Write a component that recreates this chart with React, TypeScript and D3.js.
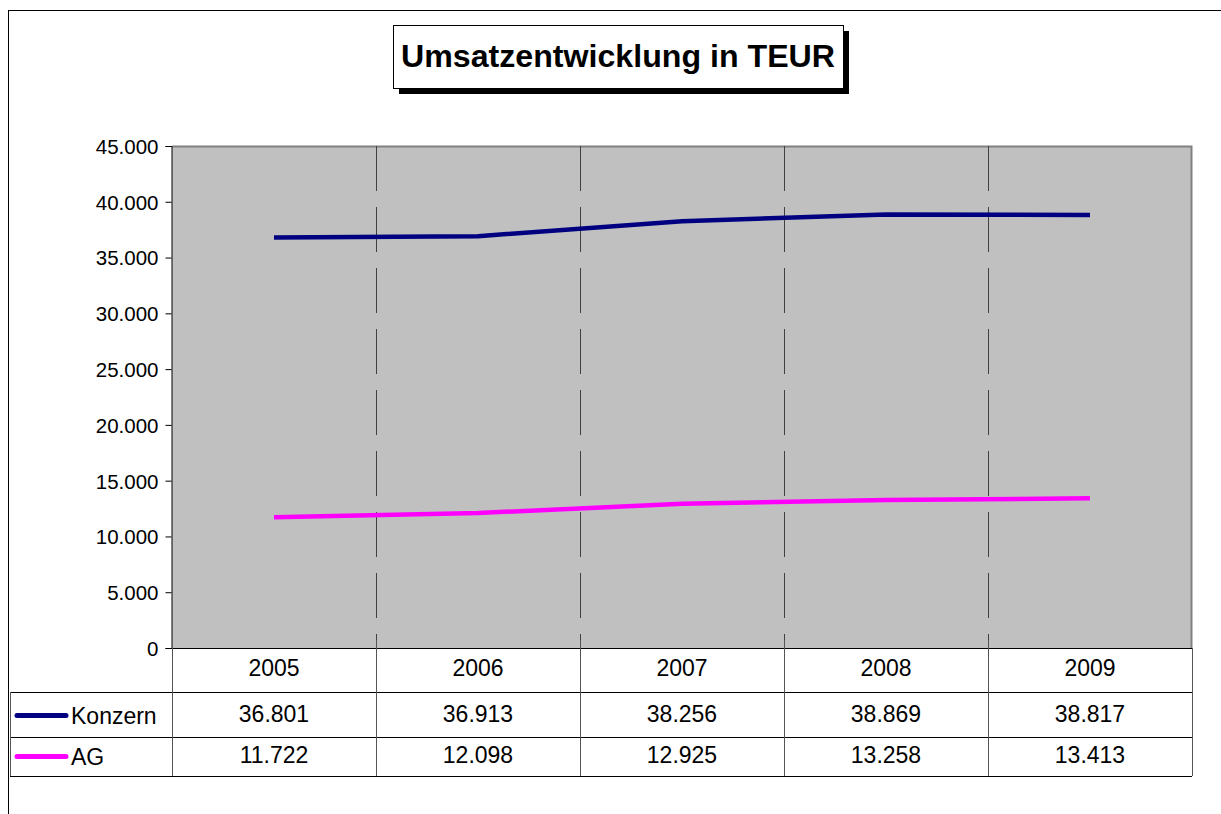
import React, { useEffect, useRef } from 'react';
import * as d3 from 'd3';

const years = ['2005', '2006', '2007', '2008', '2009'];
const konzern = [36801, 36913, 38256, 38869, 38817];
const ag = [11722, 12098, 12925, 13258, 13413];
const yTicks = [0, 5000, 10000, 15000, 20000, 25000, 30000, 35000, 40000, 45000];
const seriesNames = ['Konzern', 'AG'];
const seriesColors = ['#000080', '#ff00ff'];

const fmt = (v: number) => d3.format(',')(v).replace(/,/g, '.');

const App = () => {
    const svgRef = useRef<SVGSVGElement>(null);

    useEffect(() => {
        const svg = d3.select(svgRef.current);
        svg.selectAll('*').remove();

        const left = 172, right = 1192, top = 146, bottom = 648;
        const font = 'Liberation Sans, Arial, sans-serif';

        // Rahmen
        svg.append('line').attr('x1', 8.5).attr('x2', 1221).attr('y1', 10.5).attr('y2', 10.5).attr('stroke', '#000');
        svg.append('line').attr('x1', 8.5).attr('x2', 8.5).attr('y1', 10).attr('y2', 814).attr('stroke', '#000');

        // Titel
        const tx = 393, ty = 25, tw = 450, th = 63;
        svg.append('rect').attr('x', tx + 6).attr('y', ty + 6).attr('width', tw).attr('height', th).attr('fill', '#000');
        svg.append('rect').attr('x', tx + 0.5).attr('y', ty + 0.5).attr('width', tw).attr('height', th)
            .attr('fill', '#fff').attr('stroke', '#000');
        svg.append('text').attr('x', 401).attr('y', 67)
            .attr('font-family', font).attr('font-weight', 'bold').attr('font-size', 31.5)
            .attr('textLength', 434).attr('lengthAdjust', 'spacingAndGlyphs')
            .text('Umsatzentwicklung in TEUR');

        const x = d3.scaleBand().domain(years).range([left, right]);
        const y = d3.scaleLinear().domain([0, 45000]).range([bottom, top]);

        // Zeichenfläche
        svg.append('rect').attr('x', left).attr('y', top).attr('width', right - left).attr('height', bottom - top)
            .attr('fill', '#c0c0c0');
        svg.append('path').attr('d', `M${left},${top + 0.5}H${right - 0.5}V${bottom}`)
            .attr('fill', 'none').attr('stroke', '#808080').attr('stroke-width', 2);

        // gestrichelte Gitterlinien
        years.slice(1).forEach(yr => {
            const gx = Math.round(x(yr)!) + 0.5;
            svg.append('line').attr('x1', gx).attr('x2', gx).attr('y1', top).attr('y2', bottom)
                .attr('stroke', '#404040').attr('stroke-dasharray', '45,16');
        });

        // y-Achse
        const yAxis = d3.axisLeft(y).tickValues(yTicks).tickSize(6).tickFormat(d => fmt(+d));
        const ya = svg.append('g').attr('transform', `translate(${left - 0.5},0)`).call(yAxis);
        ya.select('.domain').attr('stroke', '#000');
        ya.selectAll('text').attr('font-family', font).attr('font-size', 20.5).attr('fill', '#000')
            .attr('dx', -4).attr('dy', '0.36em');

        // Linien
        const line = d3.line<number>().x((_, i) => x(years[i])! + x.bandwidth() / 2).y(d => y(d));
        [konzern, ag].forEach((s, i) => {
            svg.append('path').datum(s).attr('d', line).attr('fill', 'none')
                .attr('stroke', seriesColors[i]).attr('stroke-width', 4.5);
        });

        // Datentabelle
        const tb = svg.append('g');
        const rowTop = [bottom, 692, 737, 776];
        const stroke = '#000';
        tb.append('line').attr('x1', left).attr('x2', right).attr('y1', bottom + 0.5).attr('y2', bottom + 0.5).attr('stroke', stroke);
        [1, 2, 3].forEach(r => {
            tb.append('line').attr('x1', 10).attr('x2', right).attr('y1', rowTop[r] + 0.5).attr('y2', rowTop[r] + 0.5).attr('stroke', stroke);
        });
        tb.append('line').attr('x1', 10.5).attr('x2', 10.5).attr('y1', rowTop[1]).attr('y2', rowTop[3]).attr('stroke', '#555');
        [...years.map(yr => x(yr)!), right].forEach((vx, i) => {
            tb.append('line').attr('x1', Math.round(vx) + 0.5).attr('x2', Math.round(vx) + 0.5)
                .attr('y1', i === 0 || i === years.length ? bottom : bottom - 8).attr('y2', rowTop[3])
                .attr('stroke', '#555');
        });
        const cell = (txt: string, cx: number, cy: number, anchor = 'middle') =>
            tb.append('text').attr('x', cx).attr('y', cy).attr('text-anchor', anchor)
                .attr('font-family', font).attr('font-size', 23).attr('fill', '#000').text(txt);
        years.forEach(yr => cell(yr, x(yr)! + x.bandwidth() / 2, 676));
        [konzern, ag].forEach((s, r) => {
            const cy = r === 0 ? 722 : 763;
            s.forEach((v, i) => cell(fmt(v), x(years[i])! + x.bandwidth() / 2, cy));
            tb.append('line').attr('x1', 17).attr('x2', 66).attr('y1', cy - 6.5).attr('y2', cy - 6.5)
                .attr('stroke', seriesColors[r]).attr('stroke-width', 5).attr('stroke-linecap', 'round');
            cell(seriesNames[r], 71, cy + 2, 'start');
        });
    }, []);

    return <svg ref={svgRef} width={1221} height={814} style={{ position: 'absolute', left: 0, top: 0 }} />;
};

export default App;
